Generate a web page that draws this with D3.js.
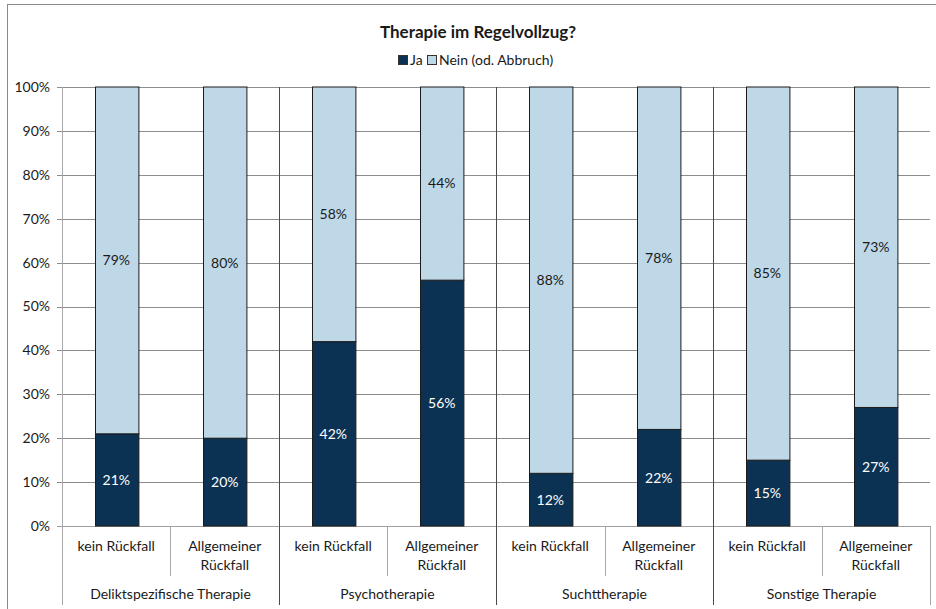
<!DOCTYPE html>
<html><head><meta charset="utf-8">
<script src="https://cdn.jsdelivr.net/npm/d3@7"></script>
<style>body{margin:0;background:#fff;} svg{display:block;font-family:Lato,"Noto Sans",sans-serif;}</style>
</head><body>
<script>
const title = "Therapie im Regelvollzug?";
const groups = ["Deliktspezifische Therapie","Psychotherapie","Suchttherapie","Sonstige Therapie"];
const subcats = ["kein Rückfall","Allgemeiner Rückfall"];
const jaValues = [21,20,42,56,12,22,15,27];
const neinValues = [79,80,58,44,88,78,85,73];
const seriesNames = ["Ja","Nein (od. Abbruch)"];
const seriesColors = ["#0c3253","#bed8e8"];
const yTicks = [0,10,20,30,40,50,60,70,80,90,100];

(function(){
const W=936,H=609;
const pLeft=62,pRight=930,pTop=87,pBottom=526;
const svg=d3.select("body").append("svg").attr("width",W).attr("height",H);

svg.append("rect").attr("x",7.5).attr("y",4.5).attr("width",W+20).attr("height",H+20)
  .attr("fill","none").attr("stroke","#8a8a8a");

const cats=[];
groups.forEach((g,gi)=>subcats.forEach((s,si)=>cats.push({g,s,key:gi+"_"+si})));
const data=cats.map((c,i)=>({...c,ja:jaValues[i],nein:neinValues[i]}));

const x=d3.scaleBand().domain(data.map(d=>d.key)).range([pLeft,pRight]).paddingInner(0.6).paddingOuter(0.3);
const y=d3.scaleLinear().domain([0,100]).range([pBottom,pTop]);
const step=x.step();

svg.append("g").selectAll("line").data(yTicks).join("line")
  .attr("x1",pLeft-5).attr("x2",pRight).attr("y1",d=>Math.round(y(d))+0.5).attr("y2",d=>Math.round(y(d))+0.5)
  .attr("stroke",d=>d===0?"#a0a0a0":"#8c8c8c").attr("stroke-width",1);

const yAxis=d3.axisLeft(y).tickValues(yTicks).tickFormat(d=>d+"%").tickSize(0).tickPadding(12);
const ya=svg.append("g").attr("transform",`translate(${pLeft},0)`).call(yAxis);
ya.select(".domain").remove();
ya.selectAll("text").attr("font-size",14).attr("fill","#1a1a1a").attr("font-family","Lato,sans-serif");

svg.append("line").attr("x1",pLeft+0.5).attr("x2",pLeft+0.5).attr("y1",pTop).attr("y2",605).attr("stroke","#a8a8a8");

data.forEach((d,i)=>{
  if(i%2===1){
    const xs=Math.round(x(d.key)-(step-x.bandwidth())/2)+0.5;
    svg.append("line").attr("x1",xs).attr("x2",xs).attr("y1",pBottom).attr("y2",576).attr("stroke","#a8a8a8");
  }
});
groups.forEach((g,gi)=>{
  if(gi>0){
    const k=gi+"_0";
    const xs=Math.round(x(k)-(step-x.bandwidth())/2)+0.5;
    svg.append("line").attr("x1",xs).attr("x2",xs).attr("y1",pTop).attr("y2",605).attr("stroke","#4a4a4a");
  }
});
svg.append("line").attr("x1",pRight+0.5).attr("x2",pRight+0.5).attr("y1",pBottom).attr("y2",605).attr("stroke","#a8a8a8");

const bars=svg.append("g");
bars.selectAll("rect.ja").data(data).join("rect").attr("class","ja")
  .attr("x",d=>Math.round(x(d.key))+0.5).attr("width",x.bandwidth())
  .attr("y",d=>y(d.ja)).attr("height",d=>y(0)-y(d.ja))
  .attr("fill",seriesColors[0]).attr("stroke","#1b1b1b").attr("stroke-width",1);
bars.selectAll("rect.nein").data(data).join("rect").attr("class","nein")
  .attr("x",d=>Math.round(x(d.key))+0.5).attr("width",x.bandwidth())
  .attr("y",d=>y(d.ja+d.nein)).attr("height",d=>y(d.ja)-y(d.ja+d.nein))
  .attr("fill",seriesColors[1]).attr("stroke","#1b1b1b").attr("stroke-width",1);

const lab=svg.append("g").attr("font-size",14).attr("text-anchor","middle");
lab.selectAll("text.ja").data(data).join("text")
  .attr("x",d=>x(d.key)+x.bandwidth()/2).attr("y",d=>y(d.ja/2)).attr("dy","0.35em")
  .attr("fill","#ffffff").text(d=>d.ja+"%");
lab.selectAll("text.nein").data(data).join("text")
  .attr("x",d=>x(d.key)+x.bandwidth()/2).attr("y",d=>y(d.ja+d.nein/2)).attr("dy","0.35em")
  .attr("fill","#1a1a1a").text(d=>d.nein+"%");

const cl=svg.append("g").attr("font-size",14).attr("text-anchor","middle").attr("fill","#1a1a1a");
data.forEach(d=>{
  const cx=x(d.key)+x.bandwidth()/2;
  if(d.s==="kein Rückfall"){
    cl.append("text").attr("x",cx).attr("y",551).text(d.s);
  } else {
    cl.append("text").attr("x",cx).attr("y",551).text("Allgemeiner");
    cl.append("text").attr("x",cx).attr("y",570).text("Rückfall");
  }
});
groups.forEach((g,gi)=>{
  const a=x(gi+"_0"), b=x(gi+"_1")+x.bandwidth();
  cl.append("text").attr("x",(a+b)/2).attr("y",599).text(g);
});

svg.append("text").attr("x",478).attr("y",38).attr("text-anchor","middle")
  .attr("font-size",17).attr("font-weight","bold").attr("fill","#1a1a1a").text(title);

const lg=svg.append("g").attr("font-size",14).attr("fill","#1a1a1a");
const legendItems=[{n:seriesNames[0],c:seriesColors[0],x:398},{n:seriesNames[1],c:seriesColors[1],x:427}];
legendItems.forEach(it=>{
  lg.append("rect").attr("x",it.x+0.5).attr("y",55.5).attr("width",9).attr("height",9)
    .attr("fill",it.c).attr("stroke","#333");
  lg.append("text").attr("x",it.x+12).attr("y",65).text(it.n);
});
})();
</script>
</body></html>
